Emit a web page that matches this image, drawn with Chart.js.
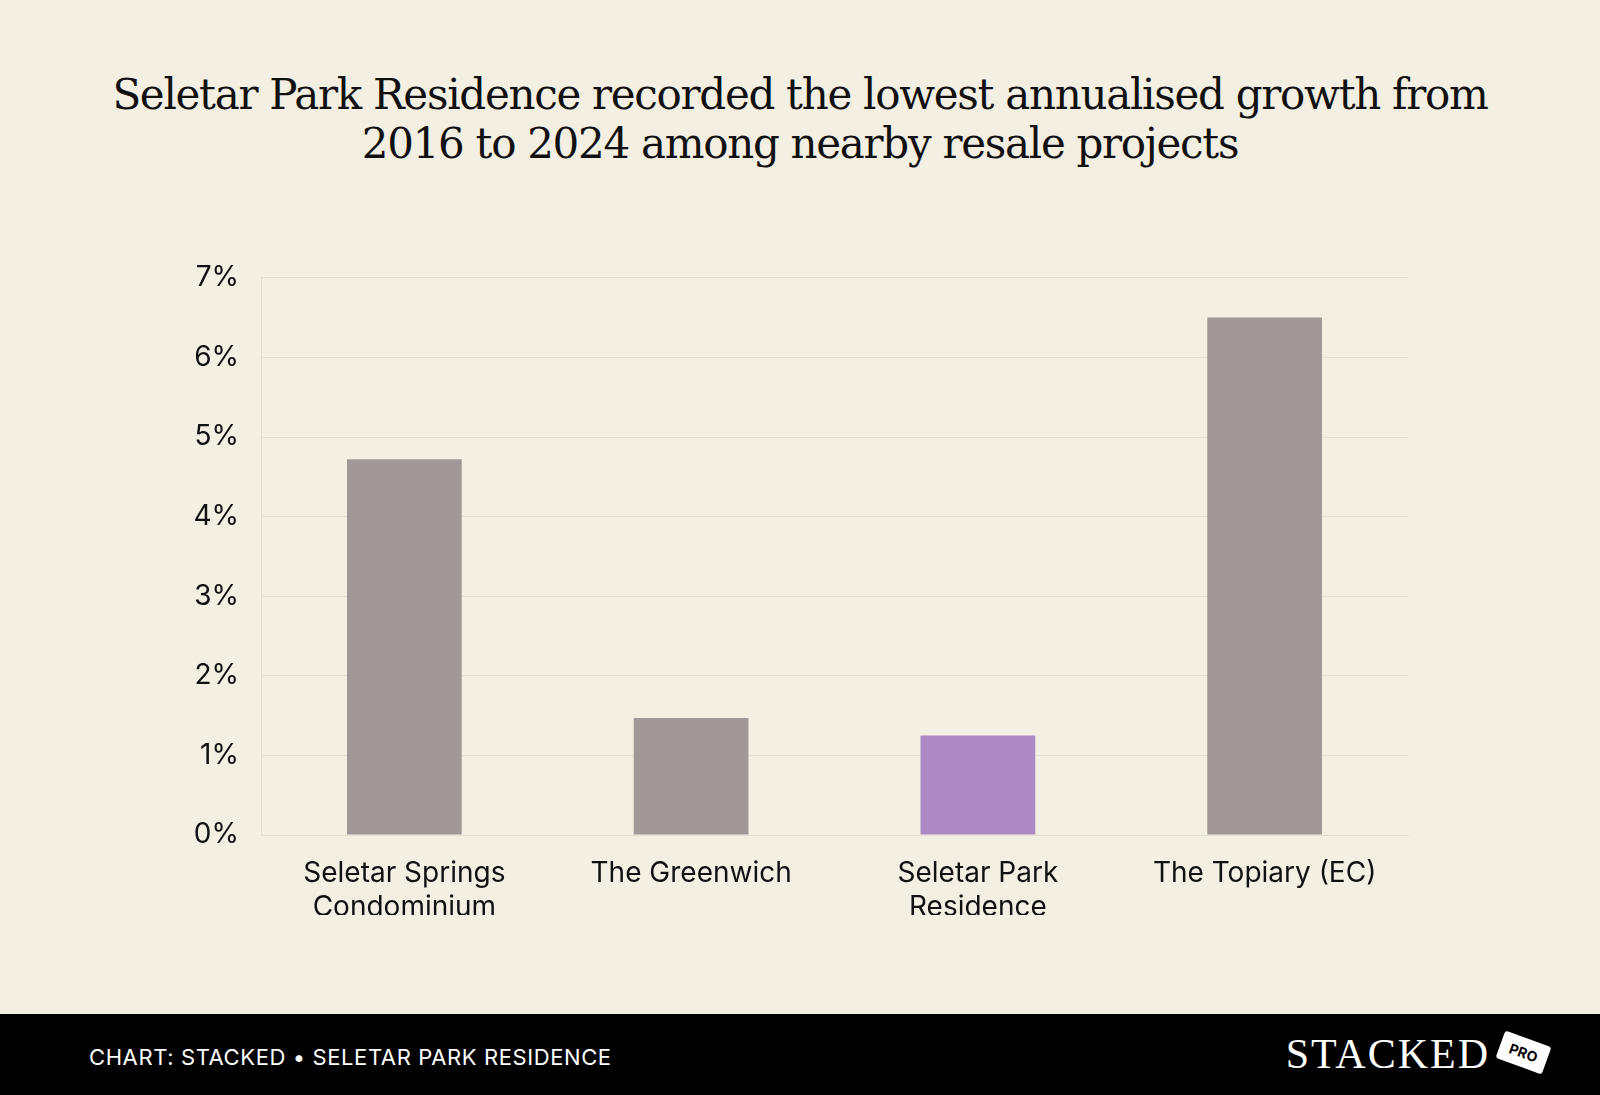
<!DOCTYPE html>
<html>
<head>
<meta charset="utf-8">
<script src="https://cdn.jsdelivr.net/npm/chart.js@4"></script>
<style>
  body { margin:0; width:1600px; height:1095px; background:#f3efe3; position:relative; overflow:hidden; font-family:Inter, "Noto Sans", sans-serif; }
  #title { position:absolute; top:70px; left:0; width:1600px; text-align:center; font-family:"DejaVu Serif", "Liberation Serif", serif; font-size:42px; line-height:49px; color:#111; letter-spacing:-1.3px; }
  #wrap { position:absolute; left:170px; top:239px; width:1260px; height:676px; }
  #footer { position:absolute; left:0; top:1014px; width:1600px; height:81px; background:#000; color:#fff; }
  #src { position:absolute; left:89px; top:30px; font-size:22px; letter-spacing:0.6px; }
  #logo { position:absolute; right:110px; top:16px; font-family:"Liberation Serif", serif; font-size:42px; letter-spacing:2px; }
  #pro { position:absolute; right:52px; top:24px; background:#fff; color:#000; font-size:14px; font-weight:bold; padding:6px 10px; transform:rotate(20deg); border-radius:3px; }
</style>
</head>
<body>
<div id="title">Seletar Park Residence recorded the lowest annualised growth from<br>2016 to 2024 among nearby resale projects</div>
<div id="wrap"><canvas id="grafico"></canvas></div>
<div id="footer">
  <div id="src">CHART: STACKED • SELETAR PARK RESIDENCE</div>
  <div id="logo">STACKED</div>
  <div id="pro">PRO</div>
</div>
<script>
// Datos del gráfico
const proyectos = [["Seletar Springs", "Condominium"], "The Greenwich", ["Seletar Park", "Residence"], "The Topiary (EC)"];
const crecimiento = [4.72, 1.47, 1.25, 6.5];
const colores = ['#a09896', '#a09896', '#ad89c5', '#a09896'];

const ctx = document.getElementById("grafico").getContext("2d");
new Chart(ctx, {
    type: 'bar',
    data: {
        labels: proyectos,
        datasets: [{ data: crecimiento, backgroundColor: colores, barPercentage: 0.4, categoryPercentage: 1 }]
    },
    options: {
        responsive: true,
        maintainAspectRatio: false,
        animation: false,
        layout: { padding: { top: 10, right: 22 } },
        plugins: { legend: { display: false }, tooltip: { enabled: false } },
        scales: {
            y: {
                min: 0, max: 7,
                ticks: { stepSize: 1, color: '#111', font: { size: 28, family: 'Inter' }, callback: v => v + '%', padding: 22 },
                grid: { color: '#e4dfd1', drawTicks: false },
                border: { color: '#e4dfd1' },
                afterFit: s => { s.width = 91; }
            },
            x: {
                ticks: { color: '#111', font: { size: 28, family: 'Inter' }, padding: 14, maxRotation: 0 },
                grid: { display: false },
                border: { color: '#e4dfd1' },
                afterFit: s => { s.height = 80; }
            }
        }
    }
});
</script>
</body>
</html>
